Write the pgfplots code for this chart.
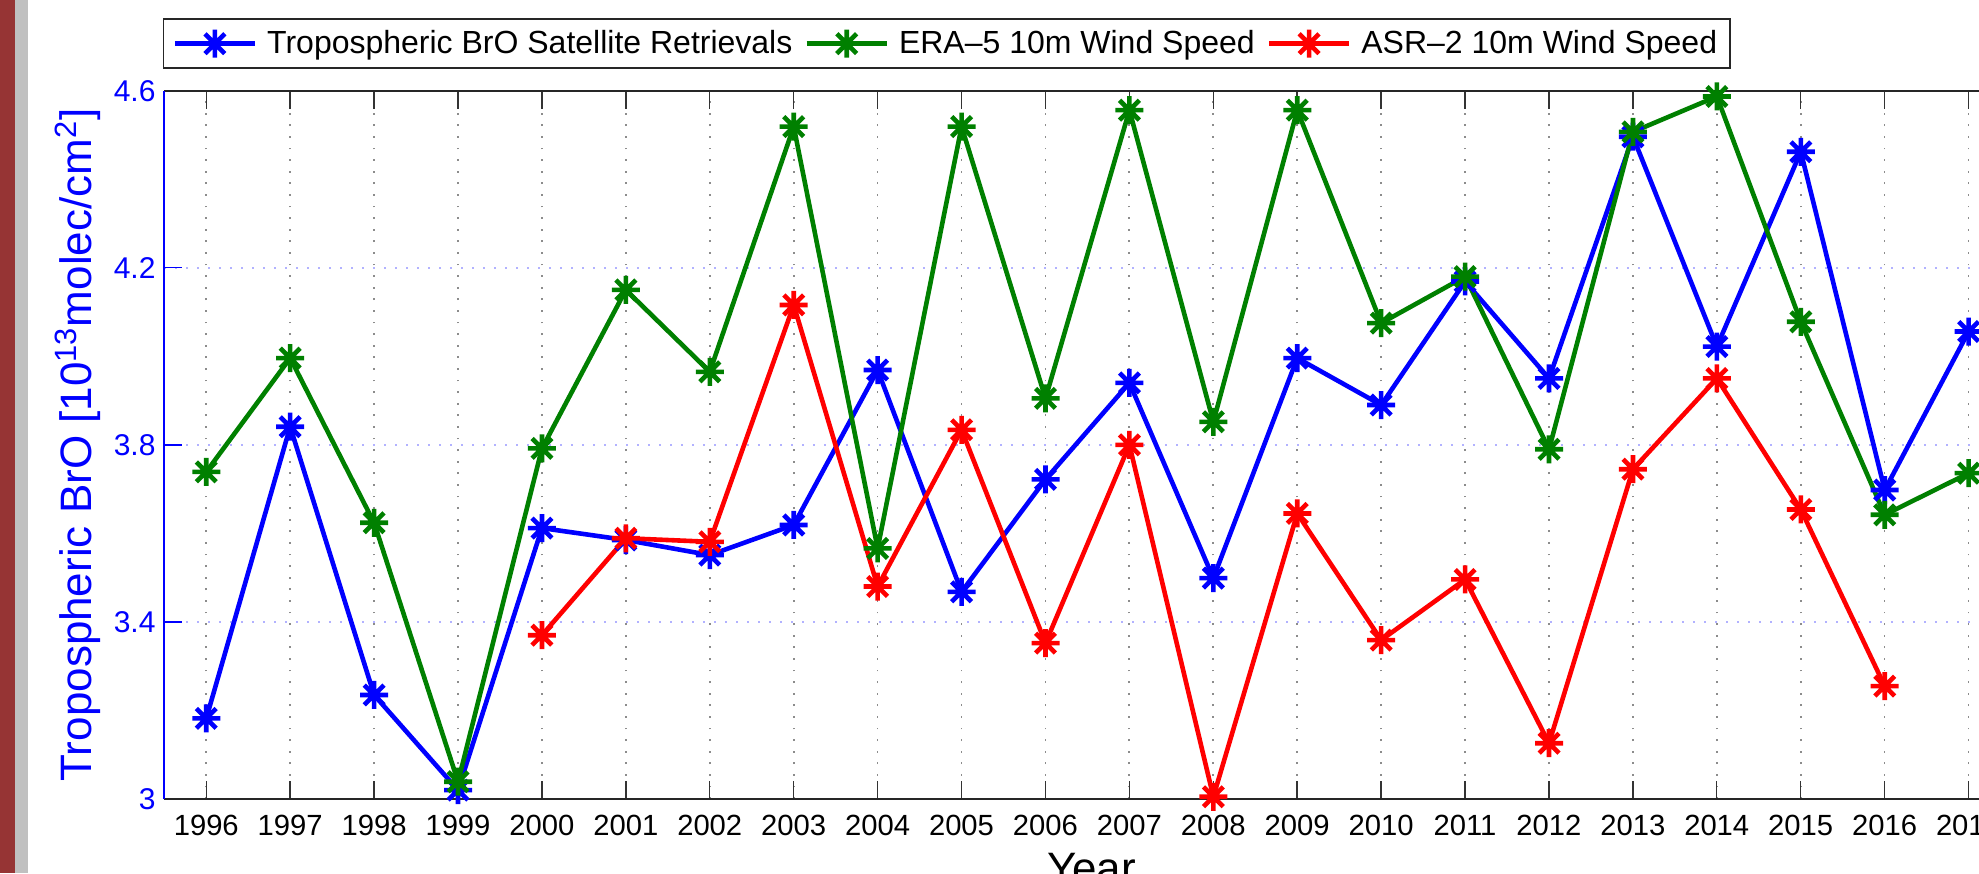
\documentclass[border=0pt]{standalone}
\usepackage{fontspec}
\setmainfont{Liberation Sans}
\usepackage{pgfplots}
\pgfplotsset{compat=1.18}

\definecolor{mgreen}{rgb}{0,0.5,0}
\definecolor{sidebar}{RGB}{150,52,52}
\definecolor{sidegray}{RGB}{192,192,192}

% matlab-style '*' marker: plus and cross together
\pgfdeclareplotmark{mstar}{%
  \pgfpathmoveto{\pgfpoint{-\pgfplotmarksize}{0pt}}%
  \pgfpathlineto{\pgfpoint{\pgfplotmarksize}{0pt}}%
  \pgfpathmoveto{\pgfpoint{0pt}{-\pgfplotmarksize}}%
  \pgfpathlineto{\pgfpoint{0pt}{\pgfplotmarksize}}%
  \pgfpathmoveto{\pgfpoint{-0.7071\pgfplotmarksize}{-0.7071\pgfplotmarksize}}%
  \pgfpathlineto{\pgfpoint{0.7071\pgfplotmarksize}{0.7071\pgfplotmarksize}}%
  \pgfpathmoveto{\pgfpoint{-0.7071\pgfplotmarksize}{0.7071\pgfplotmarksize}}%
  \pgfpathlineto{\pgfpoint{0.7071\pgfplotmarksize}{-0.7071\pgfplotmarksize}}%
  \pgfusepathqstroke}

\pgfplotstableread{
year bro
1996 3.182
1997 3.841
1998 3.235
1999 3.020
2000 3.612
2001 3.585
2002 3.551
2003 3.619
2004 3.969
2005 3.468
2006 3.722
2007 3.940
2008 3.499
2009 3.996
2010 3.890
2011 4.169
2012 3.950
2013 4.496
2014 4.022
2015 4.462
2016 3.698
2017 4.056
}\brotab

\pgfplotstableread{
year era
1996 3.739
1997 3.996
1998 3.624
1999 3.039
2000 3.792
2001 4.150
2002 3.965
2003 4.519
2004 3.566
2005 4.519
2006 3.905
2007 4.556
2008 3.852
2009 4.556
2010 4.075
2011 4.180
2012 3.790
2013 4.507
2014 4.587
2015 4.078
2016 3.642
2017 3.736
}\eratab

\pgfplotstableread{
year asr
2000 3.370
2001 3.589
2002 3.581
2003 4.116
2004 3.480
2005 3.834
2006 3.352
2007 3.800
2008 3.005
2009 3.645
2010 3.359
2011 3.496
2012 3.126
2013 3.745
2014 3.950
2015 3.654
2016 3.255
}\asrtab

\begin{document}
\begin{tikzpicture}
\begin{axis}[
    at={(0pt,0pt)}, anchor=south west,
    scale only axis,
    width=923.15pt, height=354.15pt,
    xmin=1995.5, xmax=2017.5,
    ymin=3, ymax=4.6,
    xtick={1996,...,2017},
    ytick={3,3.4,3.8,4.2,4.6},
    clip=false,
    separate axis lines,
    x axis line style={black!85, line width=0.9pt},
    y axis line style={blue, line width=0.9pt},
    tick align=inside,
    xtick pos=both, ytick pos=left,
    major tick length=9pt,
    x tick style={black!80, line width=0.7pt},
    y tick style={blue, line width=0.7pt},
    xmajorgrids, ymajorgrids,
    major x grid style={black!45, line width=0.9pt, dash pattern=on 0.9pt off 4.9pt},
    major y grid style={blue!30, line width=0.9pt, dash pattern=on 0.9pt off 4.6pt},
    /pgf/number format/assume math mode=true,
    xticklabel style={font=\fontsize{14.6}{17}\selectfont, /pgf/number format/1000 sep={}, inner sep=0pt, yshift=-8pt},
    yticklabel style={font=\fontsize{15}{18}\selectfont, text=blue, inner sep=0pt, xshift=-4.2pt},
    xlabel={Year},
    xlabel style={font=\fontsize{22}{26}\selectfont, at={(axis description cs:0.5,0)}, anchor=north, inner sep=0pt, yshift=-27pt, xshift=2pt},
    ylabel={Tropospheric BrO [10\textsuperscript{13}molec/cm\textsuperscript{2}]},
    ylabel style={font=\fontsize{22}{26}\selectfont, text=blue, at={(axis description cs:-0.0392,0.5)}, anchor=base, inner sep=0pt},
    legend columns=3,
    legend image code/.code={\draw[mark repeat=2, mark phase=2] plot coordinates {(0pt,0pt) (20pt,0pt) (40pt,0pt)};},
    legend style={
        font=\fontsize{16}{19}\selectfont,
        draw=black!85, line width=0.9pt, fill=white,
        at={(axis description cs:0,1)}, anchor=north west,
        xshift=-0.8pt, yshift=36.2pt,
        inner xsep=4.5pt, inner ysep=3.7pt,
        nodes={inner xsep=2pt, inner ysep=2pt},
        /tikz/every odd column/.append style={column sep=3pt},
        /tikz/every even column/.append style={column sep=4pt}
    },
]
\addplot[blue, line width=2.3pt, mark=mstar, mark size=7pt] table[x=year, y=bro] {\brotab};
\addplot[mgreen, line width=2.3pt, mark=mstar, mark size=7pt] table[x=year, y=era] {\eratab};
\addplot[red, line width=2.3pt, mark=mstar, mark size=7pt] table[x=year, y=asr] {\asrtab};
\legend{Tropospheric BrO Satellite Retrievals, ERA--5 10m Wind Speed, ASR--2 10m Wind Speed}
\end{axis}
% screenshot frame on the left and crop of the page
\fill[sidebar] (-82.15pt,-37pt) rectangle (-74.65pt,399.5pt);
\fill[sidegray] (-74.65pt,-37pt) rectangle (-68.15pt,399.5pt);
\pgfresetboundingbox
\path[use as bounding box] (-82.15pt,-37pt) rectangle (907.35pt,399.5pt);
\end{tikzpicture}
\end{document}
